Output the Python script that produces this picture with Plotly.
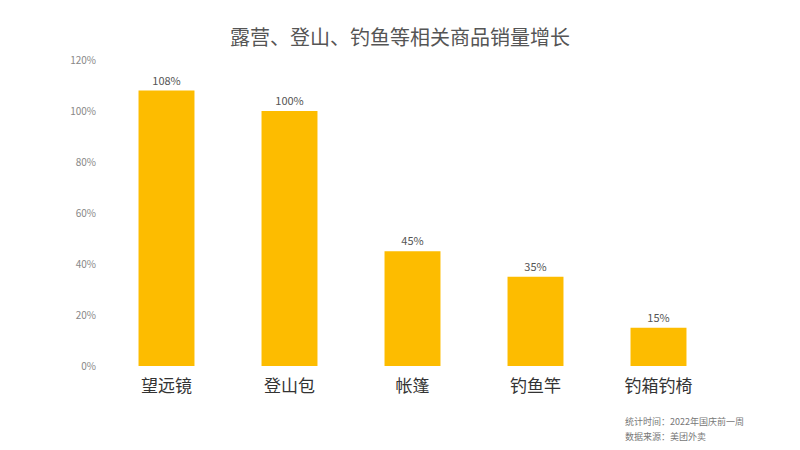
import plotly.graph_objects as go

categories = ["望远镜", "登山包", "帐篷", "钓鱼竿", "钓箱钓椅"]
growth_pct = [108, 100, 45, 35, 15]
y_ticks = [0, 20, 40, 60, 80, 100, 120]
y_tick_labels = [f"{v}%" for v in y_ticks]
footnotes = ["统计时间：2022年国庆前一周", "数据来源：美团外卖"]

FONT = "Noto Sans CJK SC"

fig = go.Figure(
    go.Bar(
        x=categories,
        y=growth_pct,
        marker=dict(color="#FDBC00", line=dict(width=0)),
        text=[f"{v}%" for v in growth_pct],
        textposition="outside",
        textfont=dict(family=FONT, size=11, color="#555555"),
        cliponaxis=False,
    )
)

fig.update_layout(
    width=800,
    height=450,
    paper_bgcolor="white",
    plot_bgcolor="white",
    margin=dict(l=105, r=80, t=60, b=84),
    bargap=0.545,
    showlegend=False,
    title=dict(
        text="露营、登山、钓鱼等相关商品销量增长",
        x=0.5,
        xanchor="center",
        y=0.915,
        yanchor="middle",
        font=dict(family=FONT, size=20, color="#555555"),
    ),
    font=dict(family=FONT),
)

fig.update_xaxes(
    showgrid=False,
    showline=False,
    zeroline=False,
    ticks="",
    ticklabelstandoff=8,
    tickfont=dict(family=FONT, size=17, color="#333333"),
)

fig.update_yaxes(
    range=[0, 120],
    tickvals=y_ticks,
    ticktext=y_tick_labels,
    showgrid=False,
    showline=False,
    zeroline=False,
    ticks="",
    ticklabelstandoff=8,
    tickfont=dict(family=FONT, size=10, color="#888888"),
)

# Source notes, bottom right, one line each
for i, note in enumerate(footnotes):
    fig.add_annotation(
        text=note,
        xref="paper", yref="paper",
        x=0.843, y=-0.18 - i * 0.052,
        xanchor="left", yanchor="middle",
        align="left",
        showarrow=False,
        font=dict(family=FONT, size=9, color="#777777"),
    )

fig.write_html("out.html")
